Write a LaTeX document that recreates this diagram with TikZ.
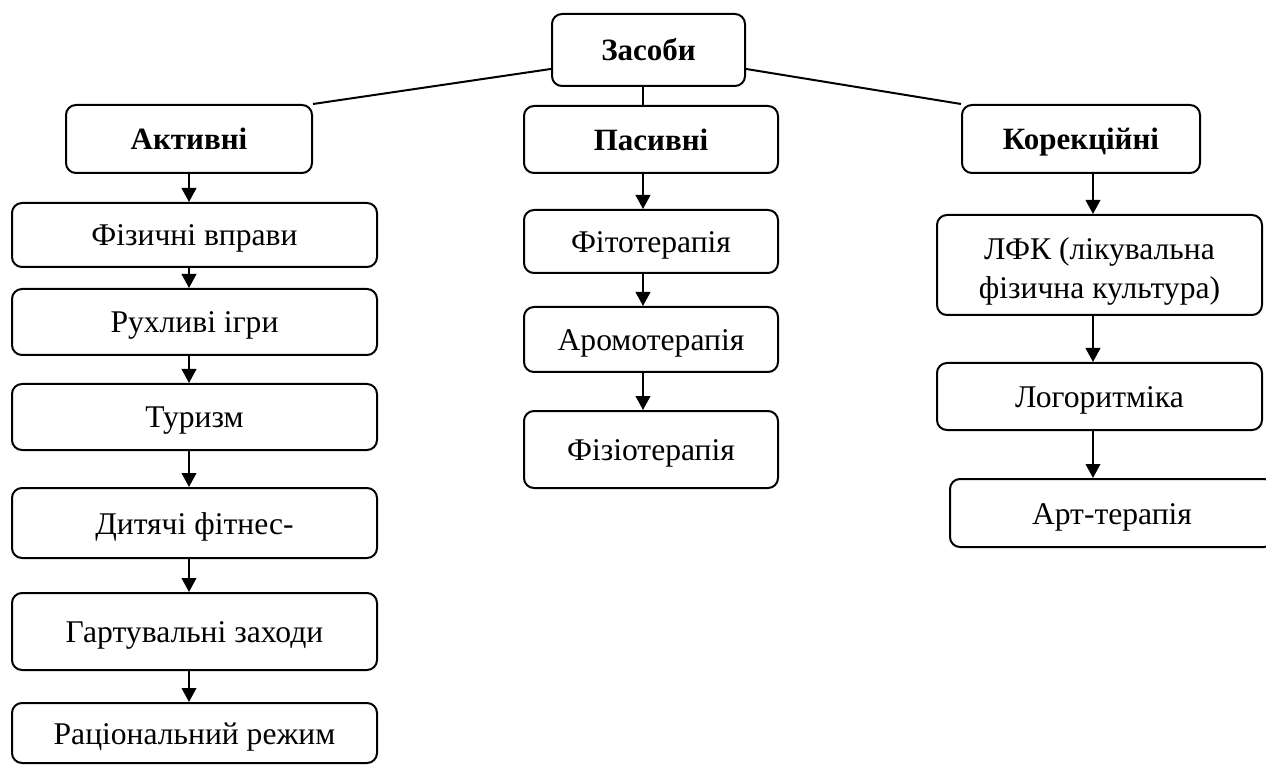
\documentclass[tikz,border=0pt]{standalone}
\usepackage{fontspec}
\setmainfont{Liberation Serif}
\usetikzlibrary{arrows.meta,positioning,calc}

\begin{document}
\begin{tikzpicture}[x=0.5pt,y=-0.5pt,line width=1pt,
  box/.style={draw,rounded corners=5pt,inner sep=2pt,align=center,
    text height=15pt,text depth=4pt,
    font=\fontsize{15.8}{19.5}\selectfont},
  head/.style={box,font=\fontsize{15.5}{19.5}\selectfont\bfseries},
  colL/.style={box,minimum width=182.5pt},
  colP/.style={box,minimum width=127pt},
  colK/.style={box,minimum width=162.5pt},
  arr/.style={-{Triangle[length=7pt,width=7.3pt]}}]
\useasboundingbox (0,0) rectangle (1266,765);
\coordinate (axL) at (189,0);
\coordinate (axP) at (643,0);
\coordinate (axK) at (1093,0);
\node[head,minimum width=96.5pt,minimum height=36pt] (zas) at (648.5,50) {Засоби};
\node[head,minimum width=123pt,minimum height=34pt] (akt) at (189,139) {Активні};
\node[head,minimum width=127pt,minimum height=33.5pt] (pas) at (651,139.5) {Пасивні};
\node[head,minimum width=119pt,minimum height=34pt] (kor) at (1081,139) {Корекційні};
\node[colL,minimum height=32pt] (fiz) at (194.5,235) {Фізичні вправи};
\node[colL,minimum height=33pt] (ruh) at (194.5,322) {Рухливі ігри};
\node[colL,minimum height=33pt] (tur) at (194.5,417) {Туризм};
\node[colL,minimum height=35pt] (dyt) at (194.5,523) {Дитячі фітнес-};
\node[colL,minimum height=38.5pt] (gar) at (194.5,631.5) {Гартувальні заходи};
\node[colL,minimum height=30pt] (rac) at (194.5,733) {Раціональний режим};
\node[colP,minimum height=31.5pt] (fito) at (651,241.5) {Фітотерапія};
\node[colP,minimum height=32.5pt] (aro) at (651,339.5) {Аромотерапія};
\node[colP,minimum height=38.5pt] (fizio) at (651,449.5) {Фізіотерапія};
\node[colK,minimum height=50pt,text height=38pt,text depth=4pt] (lfk) at (1099.5,265) {ЛФК (лікувальна\\фізична культура)};
\node[colK,minimum height=33.5pt] (log) at (1099.5,396.5) {Логоритміка};
\node[box,minimum width=162pt,minimum height=34pt] (art) at (1112,513) {Арт-терапія};
\draw (zas.191) -- (akt.north east);
\draw (zas.349) -- (kor.north west);
\draw (zas.south -| axP) -- (pas.north -| axP);
\foreach \a/\b in {akt/fiz,fiz/ruh,ruh/tur,tur/dyt,dyt/gar,gar/rac}
  \draw[arr] (\a.south -| axL) -- (\b.north -| axL);
\foreach \a/\b in {pas/fito,fito/aro,aro/fizio}
  \draw[arr] (\a.south -| axP) -- (\b.north -| axP);
\foreach \a/\b in {kor/lfk,lfk/log,log/art}
  \draw[arr] (\a.south -| axK) -- (\b.north -| axK);
\end{tikzpicture}
\end{document}
